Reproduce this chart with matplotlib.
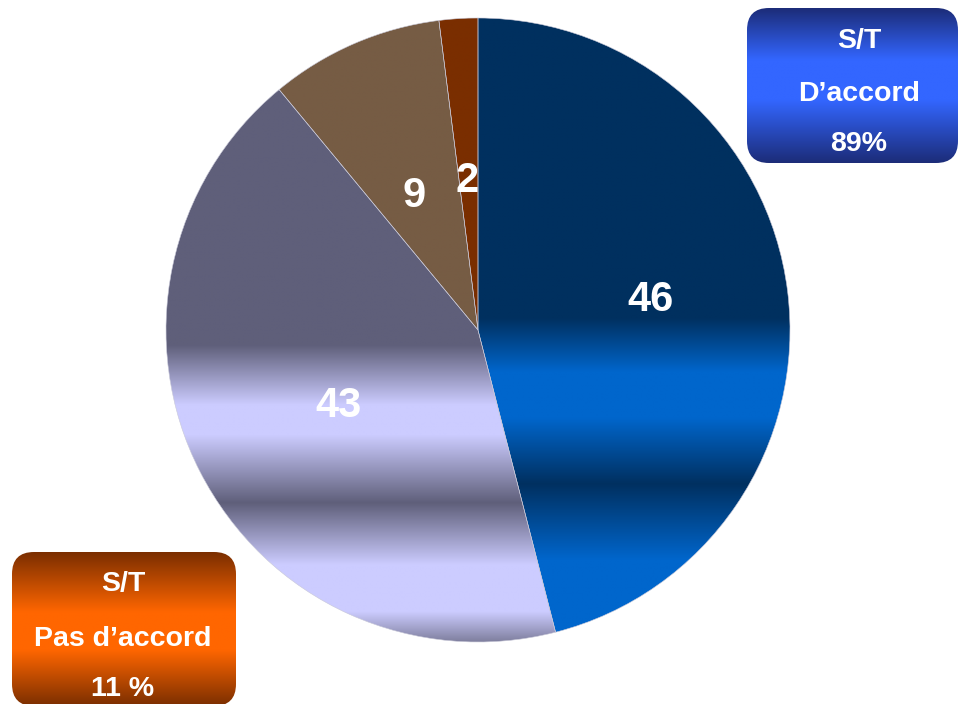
import numpy as np
import matplotlib.pyplot as plt
from matplotlib.colors import to_rgb
from matplotlib.patches import FancyBboxPatch

plt.rcParams['font.family'] = ['Liberation Sans', 'DejaVu Sans']

# data
values = [46, 43, 9, 2]
labels = ['46', '43', '9', '2']
box_agree = ['S/T', 'D\u2019accord', '89%']
box_disagree = ['S/T', 'Pas d\u2019accord', '11 %']

# colour bands, (pixel row from top, colour)
slice_bands = [
    [(18, '#00305f'), (318, '#00305f'), (372, '#0066cc'), (418, '#0066cc'),
     (484, '#003060'), (560, '#0066cc'), (644, '#0066cc')],
    [(18, '#5f5f7a'), (345, '#5f5f7a'), (405, '#ccccff'), (435, '#ccccff'),
     (503, '#5f5f7a'), (565, '#ccccff'), (612, '#ccccff'), (644, '#7a7a98')],
    [(18, '#765c44'), (644, '#765c44')],
    [(18, '#7a2e00'), (644, '#7a2e00')],
]
agree_bands = [(8, '#1c2c78'), (60, '#3366ff'), (100, '#3366ff'), (163, '#1c2c78')]
disagree_bands = [(552, '#7a2e00'), (612, '#ff6600'), (650, '#ff6600'), (706, '#7a2e00')]

W, H = 959, 704
cx, cy, r = 478, 330, 312


def band_image(stops, top, bottom, n=600):
    ys = np.linspace(top, bottom, n)
    pos = [p for p, _ in stops]
    cols = np.array([to_rgb(c) for _, c in stops])
    rgb = np.stack([np.interp(ys, pos, cols[:, i]) for i in range(3)], axis=-1)
    return np.repeat(rgb[:, None, :], 2, axis=1)


fig = plt.figure(figsize=(W / 100, H / 100), dpi=100)
ax = fig.add_axes([0, 0, 1, 1])

wedges, _ = ax.pie(values, startangle=90, counterclock=False,
                   center=(cx, H - cy), radius=r,
                   wedgeprops=dict(edgecolor='#c8c8d8', linewidth=0.4))
ax.set_xlim(0, W)
ax.set_ylim(0, H)
ax.set_aspect('auto')
ax.axis('off')

top, bottom = 18, 644
for w, stops in zip(wedges, slice_bands):
    w.set_facecolor('none')
    img = band_image(stops, top, bottom)
    im = ax.imshow(img, extent=(cx - r - 2, cx + r + 2, H - bottom, H - top),
                   origin='upper', aspect='auto', interpolation='bilinear', zorder=0.5)
    im.set_clip_path(w)

label_xy = [(650, 311), (338, 417), (414, 207), (467, 192)]
for t, (x, y) in zip(labels, label_xy):
    ax.text(x, H - y, t, color='white', fontsize=30, fontweight='bold',
            ha='center', va='baseline', zorder=3)


def gradient_box(x0, y0, x1, y1, stops, lines, baselines, tx):
    box = FancyBboxPatch((x0, H - y1), x1 - x0, y1 - y0,
                         boxstyle='round,pad=0,rounding_size=22',
                         facecolor='none', edgecolor='none', zorder=2)
    ax.add_patch(box)
    img = band_image(stops, y0, y1)
    im = ax.imshow(img, extent=(x0, x1, H - y1, H - y0), origin='upper',
                   aspect='auto', interpolation='bilinear', zorder=2)
    im.set_clip_path(box)
    for s, b in zip(lines, baselines):
        ax.text(tx, H - b, s, color='white', fontsize=20.5, fontweight='bold',
                ha='center', va='baseline', zorder=3)


gradient_box(747, 8, 958, 163, agree_bands, box_agree, [48, 101, 151], 859)
gradient_box(12, 552, 236, 706, disagree_bands, box_disagree, [591, 646, 696], 123)

fig.savefig('out.png', dpi=100)
